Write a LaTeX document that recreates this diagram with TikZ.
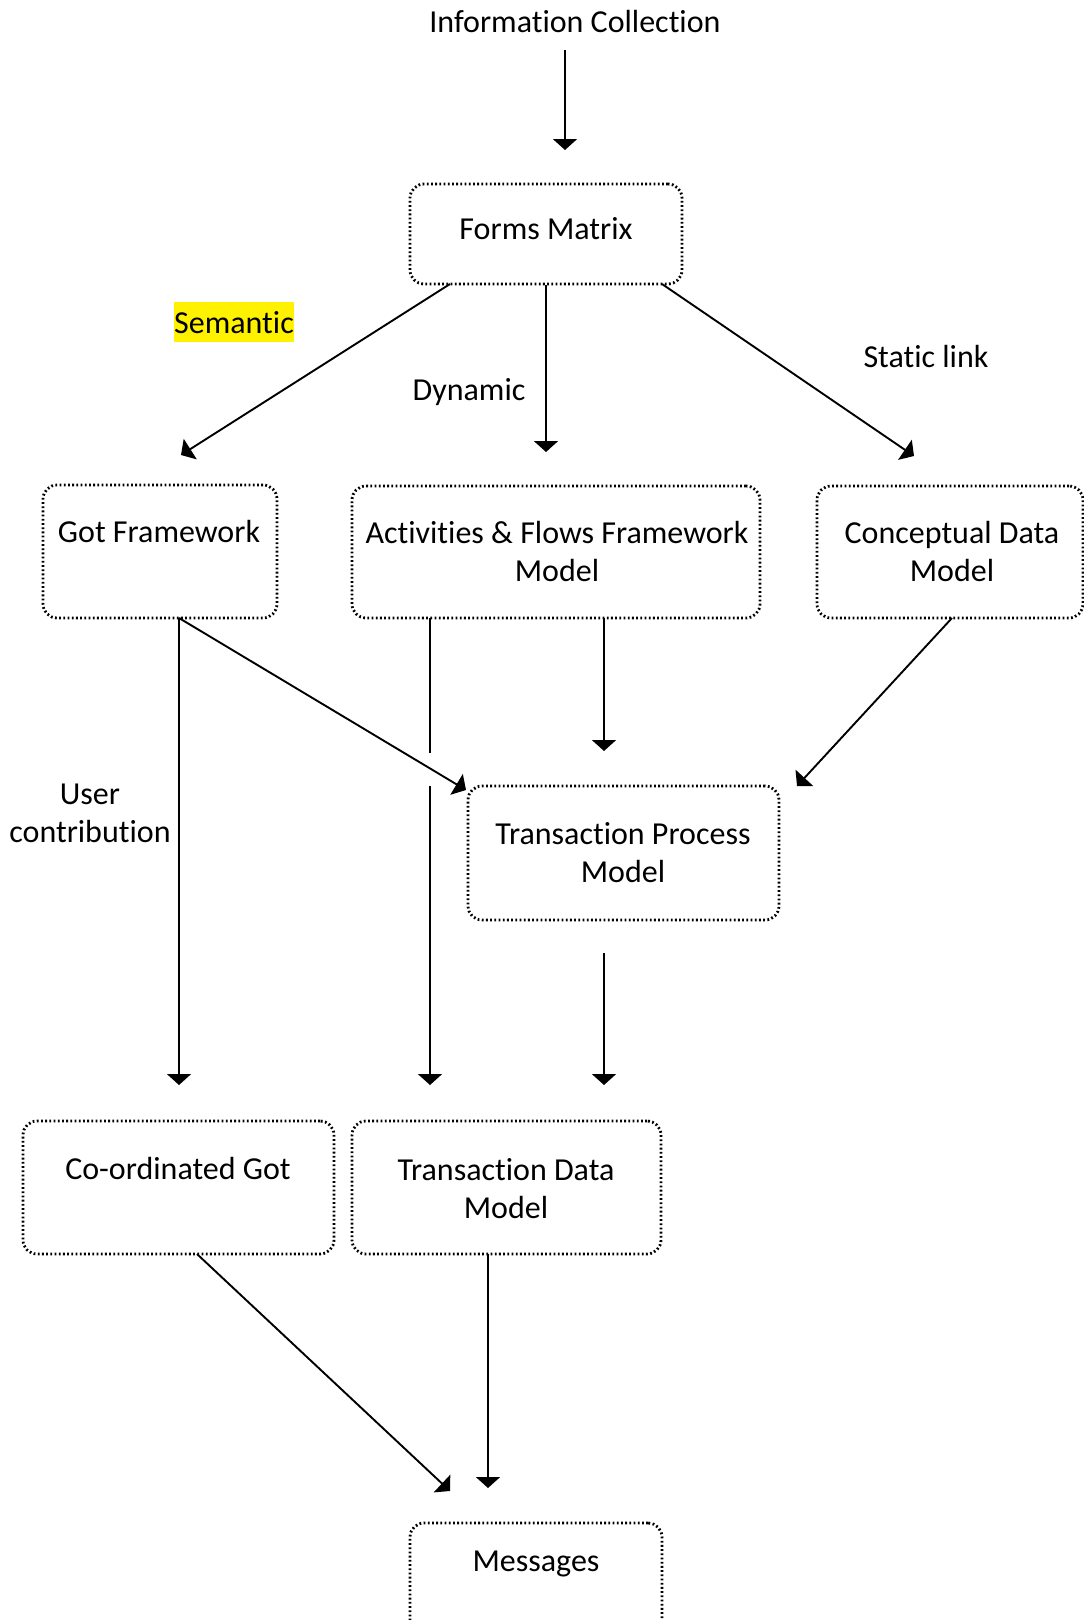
\documentclass[tikz,border=0pt]{standalone}
\usepackage{fontspec}
\setmainfont{Carlito}[Ligatures=NoCommon]
\usetikzlibrary{arrows.meta}

\begin{document}
\begin{tikzpicture}[x=1pt,y=-1pt,
  box/.style={draw, line width=2.8pt, dash pattern=on 1.8pt off 2.4pt,
    rounded corners=14pt, inner sep=0pt},
  txt/.style={font=\fontsize{32}{38.5}\selectfont, align=center, inner sep=0pt, anchor=base},
  arr/.style={line width=1.9pt, -{Triangle[width=24pt,length=11pt]}},
  ln/.style={line width=1.9pt}]

\clip (0,0) rectangle (1084,1620);
\useasboundingbox (0,0) rectangle (1084,1620);

% boxes
\node[box, minimum width=272pt, minimum height=100pt] (fm)  at (546,234)    {};
\node[box, minimum width=234pt, minimum height=133pt] (gf)  at (160,551.5)  {};
\node[box, minimum width=408pt, minimum height=132pt] (af)  at (556,552)    {};
\node[box, minimum width=266pt, minimum height=132pt] (cdm) at (950,552)    {};
\node[box, minimum width=311pt, minimum height=134pt] (tpm) at (623.5,853)  {};
\node[box, minimum width=311pt, minimum height=133pt] (cg)  at (178.5,1187.5) {};
\node[box, minimum width=309pt, minimum height=133pt] (tdm) at (506.5,1187.5) {};
\node[box, minimum width=252pt, minimum height=133pt] (msg) at (536,1589.5) {};

% texts (multi-line nodes sit on the baseline of their last line)
\node[txt] (tInfo) at (575,32) {Information Collection};
\node[txt] (tFm)   at (546,239.5) {Forms Matrix};
\node[fill=yellow, minimum width=120pt, minimum height=40pt, inner sep=0pt] (sem) at (234,322) {};
\node[txt] (tSem)  at (234,333) {Semantic};
\node[txt] (tDyn)  at (469,400.5) {Dynamic};
\node[txt] (tSta)  at (926,367.5) {Static link};
\node[txt] (tGf)   at (159,542.5) {Got Framework};
\node[txt] (tAf)   at (557,581.5) {Activities \& Flows Framework\\Model};
\node[txt] (tCdm)  at (952,581.5) {Conceptual Data\\Model};
\node[txt] (tUser) at (90,842.5)  {User\\contribution};
\node[txt] (tTpm)  at (623,882.5) {Transaction Process\\Model};
\node[txt] (tCg)   at (178,1179.5) {Co-ordinated Got};
\node[txt] (tTdm)  at (506,1218.5) {Transaction Data\\Model};
\node[txt] (tMsg)  at (536,1571.5) {Messages};

% connector end points
\coordinate (i0) at (565,50);
\coordinate (i1) at (565,150);
\coordinate (fmL) at (450,284);
\coordinate (fmR) at (662,284);
\coordinate (gfIn) at (181,455);
\coordinate (afIn) at (546,452);
\coordinate (cdmIn) at (914,456);
\coordinate (gfOut) at (179,618);
\coordinate (cgIn) at (179,1085);
\coordinate (tpmNW) at (466,790);
\coordinate (afOutL) at (430,618);
\coordinate (gapTop) at (430,753);
\coordinate (gapBot) at (430,786);
\coordinate (tdmInL) at (430,1085);
\coordinate (afOutM) at (604,618);
\coordinate (tpmIn) at (604,751);
\coordinate (cdmOut) at (952,618);
\coordinate (tpmNE) at (797,786);
\coordinate (tpmOut) at (604,953);
\coordinate (tdmInM) at (604,1085);
\coordinate (cgOut) at (197,1254);
\coordinate (msgInL) at (450,1491);
\coordinate (tdmOut) at (488,1254);
\coordinate (msgInM) at (488,1488);

% connectors
\draw[arr] (i0) -- (i1);
\draw[arr] (fmL) -- (gfIn);
\draw[arr] (fm.south) -- (afIn);
\draw[arr] (fmR) -- (cdmIn);
\draw[arr] (gfOut) -- (cgIn);
\draw[arr] (gfOut) -- (tpmNW);
\draw[ln]  (afOutL) -- (gapTop);
\draw[arr] (gapBot) -- (tdmInL);
\draw[arr] (afOutM) -- (tpmIn);
\draw[arr] (cdmOut) -- (tpmNE);
\draw[arr] (tpmOut) -- (tdmInM);
\draw[arr] (cgOut) -- (msgInL);
\draw[arr] (tdmOut) -- (msgInM);
\end{tikzpicture}
\end{document}
